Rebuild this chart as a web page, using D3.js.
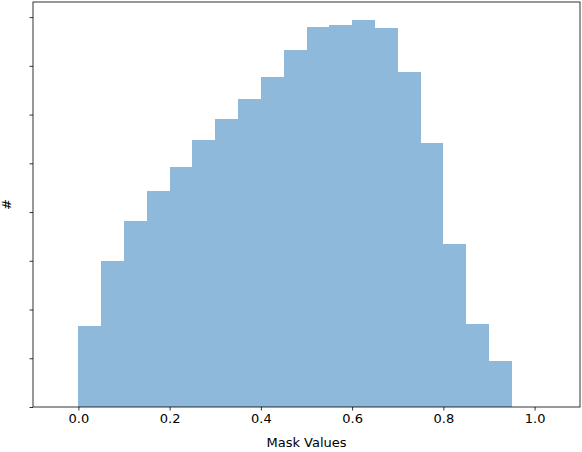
<!DOCTYPE html>
<html><head><meta charset="utf-8">
<script src="https://cdn.jsdelivr.net/npm/d3@7"></script>
<style>body{margin:0;background:#fff}</style>
</head><body>
<script>
const binStarts = [0,0.05,0.1,0.15,0.2,0.25,0.3,0.35,0.4,0.45,0.5,0.55,0.6,0.65,0.7,0.75,0.8,0.85,0.9];
const counts = [1.66,2.99,3.82,4.43,4.92,5.48,5.91,6.32,6.77,7.32,7.79,7.84,7.94,7.77,6.87,5.42,3.34,1.70,0.94];
const binWidth = 0.05;
const xTicks = [0,0.2,0.4,0.6,0.8,1.0];
const yTicks = [0,1,2,3,4,5,6,7,8];

const W = 582, H = 452, m = {l:33, r:2, t:2, b:45};
const svg = d3.select("body").append("svg").attr("width", W).attr("height", H)
  .style("font-family", "DejaVu Sans");
const x = d3.scaleLinear().domain([-0.0995, 1.0995]).range([m.l, W - m.r]);
const y = d3.scaleLinear().domain([0, 8.31]).range([H - m.b, m.t]);

svg.selectAll("rect.bar").data(binStarts).enter().append("rect")
  .attr("class", "bar")
  .attr("x", d => x(d))
  .attr("width", d => x(d + binWidth) - x(d))
  .attr("y", (d, i) => y(counts[i]))
  .attr("height", (d, i) => y(0) - y(counts[i]))
  .attr("fill", "#8fb9da")
  .attr("shape-rendering", "crispEdges");

const xa = svg.append("g").attr("transform", `translate(0,${H - m.b})`)
  .call(d3.axisBottom(x).tickValues(xTicks).tickFormat(d3.format(".1f")).tickSizeOuter(0).tickSize(3.5).tickPadding(3.5));
const ya = svg.append("g").attr("transform", `translate(${m.l},0)`)
  .call(d3.axisLeft(y).tickValues(yTicks).tickFormat("").tickSizeOuter(0).tickSize(3.5));
[xa, ya].forEach(a => {
  a.selectAll("text").attr("font-size", 13).attr("fill", "#000").attr("font-family", "DejaVu Sans");
  a.selectAll("line").attr("stroke", "#000").attr("stroke-width", 0.8);
  a.select(".domain").remove();
});

svg.append("rect").attr("x", m.l).attr("y", m.t)
  .attr("width", W - m.r - m.l).attr("height", H - m.b - m.t)
  .attr("fill", "none").attr("stroke", "#000").attr("stroke-width", 0.8);

svg.append("text").attr("x", (m.l + W - m.r) / 2).attr("y", 447)
  .attr("text-anchor", "middle").attr("font-size", 13).text("Mask Values");
svg.append("text").attr("transform", `translate(11,${(m.t + H - m.b) / 2}) rotate(-90)`)
  .attr("text-anchor", "middle").attr("font-size", 13).text("#");
</script>
</body></html>
